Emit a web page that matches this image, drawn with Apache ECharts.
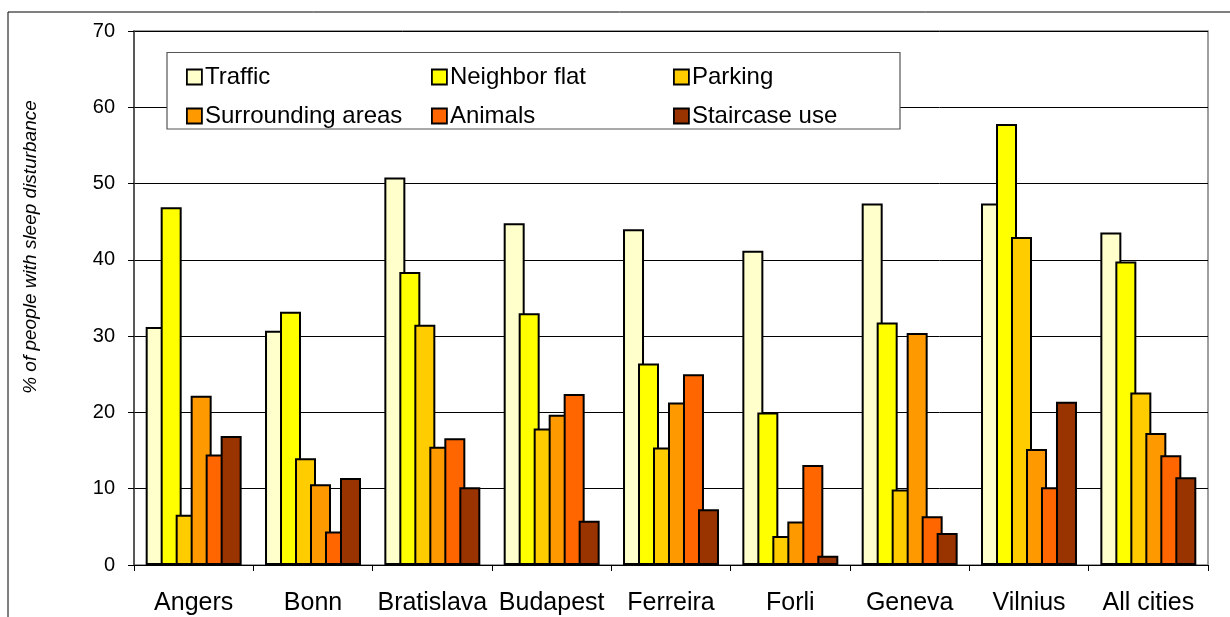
<!DOCTYPE html>
<html>
<head>
<meta charset="utf-8">
<script src="https://cdn.jsdelivr.net/npm/echarts@6/dist/echarts.min.js"></script>
<style>
  html, body { margin: 0; padding: 0; background: #fff; }
  #chart { width: 1230px; height: 617px; }
</style>
</head>
<body>
<div id="chart"></div>
<script>
const categories = ['Angers', 'Bonn', 'Bratislava', 'Budapest', 'Ferreira', 'Forli', 'Geneva', 'Vilnius', 'All cities'];
const seriesNames = ['Traffic', 'Neighbor flat', 'Parking', 'Surrounding areas', 'Animals', 'Staircase use'];
const traffic      = [31.2, 30.7, 50.8, 44.8, 44.0, 41.2, 47.4, 47.4, 43.6];
const neighborFlat = [46.9, 33.2, 38.4, 33.0, 26.4, 20.0, 31.8, 57.8, 39.8];
const parking      = [6.6, 14.0, 31.5, 17.9, 15.4, 3.8, 9.9, 43.0, 22.6];
const surrounding  = [22.2, 10.6, 15.5, 19.7, 21.3, 5.7, 30.4, 15.2, 17.3];
const animals      = [14.5, 4.4, 16.6, 22.4, 25.0, 13.1, 6.4, 10.2, 14.4];
const staircase    = [16.9, 11.4, 10.2, 5.8, 7.3, 1.2, 4.2, 21.4, 11.5];
const yTicks = [0, 10, 20, 30, 40, 50, 60, 70];
const yAxisTitle = '% of people with sleep disturbance';

const seriesData = [traffic, neighborFlat, parking, surrounding, animals, staircase];
const colors = ['#FFFFCC', '#FFFF00', '#FFCC00', '#FF9900', '#FF6600', '#993300'];
const FONT = '"Liberation Sans", Arial, sans-serif';

const chart = echarts.init(document.getElementById('chart'), null, { renderer: 'canvas' });

const legendCommon = {
  orient: 'vertical',
  top: 60,
  itemWidth: 15,
  itemHeight: 15,
  itemGap: 15,
  icon: 'rect',
  selectedMode: false,
  itemStyle: { borderColor: '#000', borderWidth: 1.8 },
  textStyle: { fontFamily: FONT, fontSize: 24, lineHeight: 24, color: '#000', padding: [0, 0, 0, -2] }
};
// columns: [Traffic, Surrounding areas], [Neighbor flat, Animals], [Parking, Staircase use]
const legendCols = [[0, 3], [1, 4], [2, 5]];
const legendLefts = [181, 426, 668];

chart.setOption({
  animation: false,
  backgroundColor: '#fff',
  color: colors,
  textStyle: { fontFamily: FONT },
  grid: {
    left: 134, right: 22, top: 31, bottom: 52,
    show: true, borderColor: '#808080', borderWidth: 1.5, backgroundColor: '#fff'
  },
  legend: legendCols.map((col, k) => Object.assign({}, legendCommon, {
    left: legendLefts[k],
    data: col.map(i => seriesNames[i])
  })),
  xAxis: {
    type: 'category',
    data: categories,
    axisLine: { lineStyle: { color: '#000', width: 1 } },
    axisTick: { show: true, length: 6, alignWithLabel: false, lineStyle: { color: '#000' } },
    axisLabel: { interval: 0, hideOverlap: false, fontSize: 25, color: '#000', margin: 26, fontFamily: FONT },
    splitLine: { show: false }
  },
  yAxis: {
    type: 'value',
    min: yTicks[0],
    max: yTicks[yTicks.length - 1],
    interval: 10,
    axisLine: { show: true, lineStyle: { color: '#404040', width: 1.5 } },
    axisTick: { show: true, inside: false, length: 6, lineStyle: { color: '#000' } },
    axisLabel: { fontSize: 20, color: '#000', margin: 19, fontFamily: FONT },
    splitLine: { show: true, lineStyle: { color: '#000', width: 1 } }
  },
  graphic: [
    {
      type: 'rect', z: -1, silent: true,
      shape: { x: 8, y: 12, width: 1400, height: 800 },
      style: { fill: 'none', stroke: '#000', lineWidth: 1 }
    },
    {
      type: 'rect', z: 3, silent: true,
      shape: { x: 167, y: 52.5, width: 733, height: 76.5 },
      style: { fill: '#fff', stroke: '#555', lineWidth: 1.2 }
    },
    {
      type: 'text', silent: true,
      x: 31, y: 247, rotation: Math.PI / 2,
      style: {
        text: yAxisTitle, x: 0, y: 0,
        align: 'center', verticalAlign: 'middle',
        fontFamily: FONT, fontSize: 19, fontStyle: 'italic', fill: '#000'
      }
    }
  ],
  series: seriesNames.map((name, i) => ({
    name: name,
    type: 'bar',
    data: seriesData[i],
    barWidth: 21,
    barGap: '-28.6%',
    itemStyle: { color: colors[i], borderColor: '#000', borderWidth: 2 }
  }))
});
</script>
</body>
</html>
